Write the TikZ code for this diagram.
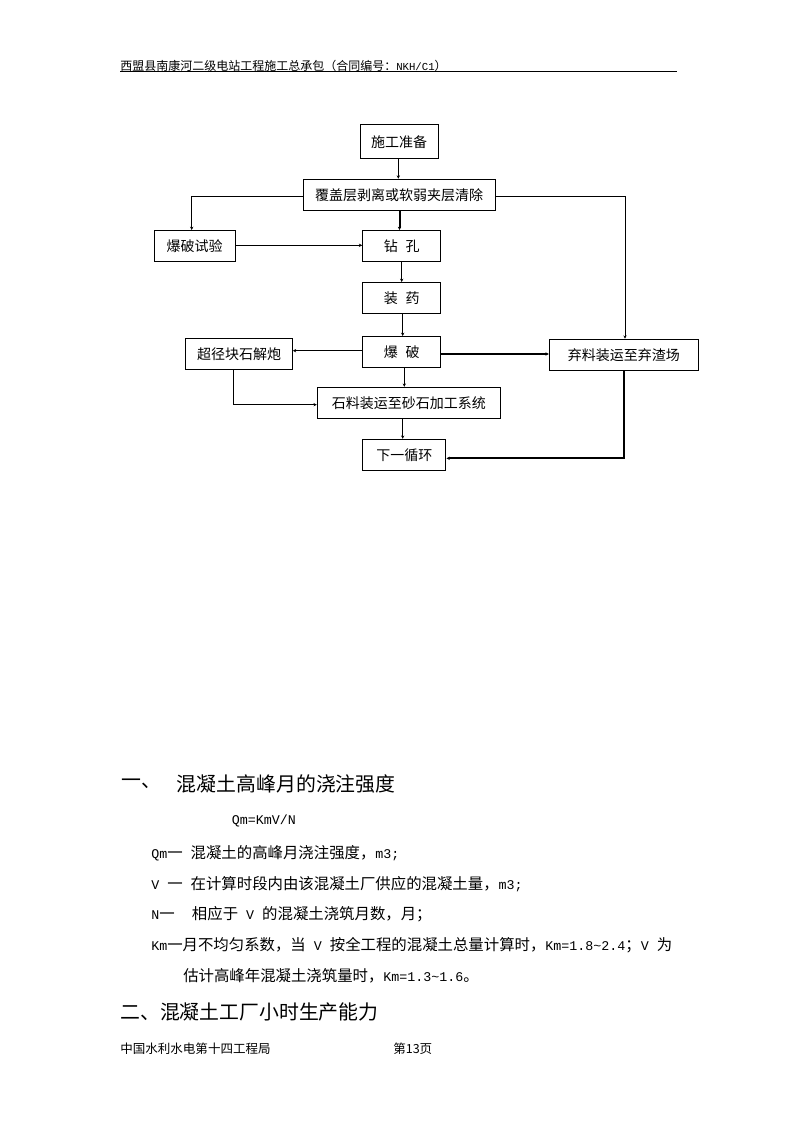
\documentclass[tikz,border=0pt]{standalone}
\usepackage{fontspec}
\setmainfont{Noto Sans CJK SC}
\newfontfamily\latmono{Liberation Mono}
\newcommand{\lat}[1]{{\latmono\fontsize{10pt}{12pt}\selectfont #1}}
\newcommand{\lats}[1]{{\latmono\fontsize{8pt}{10pt}\selectfont #1}}
\usetikzlibrary{arrows.meta}
\begin{document}
\begin{tikzpicture}[x=0.75pt,y=-0.75pt,
  box/.style={draw,line width=0.75pt,rectangle,inner sep=0pt,font=\fontsize{10.5pt}{12pt}\selectfont,minimum height=0.75*31pt},
  conn/.style={line width=0.75pt,-{Stealth[length=2.5pt,width=2.5pt]}},
  thickconn/.style={line width=1.5pt,-{Stealth[length=2.5pt,width=2.5pt]}},
  txt/.style={anchor=west,inner sep=0pt,font=\fontsize{11.55pt}{13pt}\selectfont},
  head/.style={anchor=west,inner sep=0pt,font=\fontsize{14.9pt}{17pt}\selectfont},
  small/.style={anchor=west,inner sep=0pt,font=\fontsize{9pt}{11pt}\selectfont}]
\useasboundingbox[fill=white] (0,0) rectangle (794,1123);
% header
\node[small] (hdr) at (120,66) {西盟县南康河二级电站工程施工总承包（合同编号：\lats{NKH/C1}）};
\coordinate (hl) at (120,72);
\coordinate (hr) at (677,72);
\draw[line width=0.75pt] (hl) -- (hr);
% boxes
\node[box,minimum width=0.75*78pt,minimum height=0.75*34pt] (n1) at (399,142) {施工准备};
\node[box,minimum width=0.75*192pt] (n2) at (399.2,194.7) {覆盖层剥离或软弱夹层清除};
\node[box,minimum width=0.75*81pt] (n3) at (194.7,246) {爆破试验};
\node[box,minimum width=0.75*78.3pt] (n4) at (401.8,246) {钻\hspace{0.55em}孔};
\node[box,minimum width=0.75*78.3pt] (n5) at (401.8,298) {装\hspace{0.55em}药};
\node[box,minimum width=0.75*78.3pt] (n6) at (401.8,352) {爆\hspace{0.55em}破};
\node[box,minimum width=0.75*106.7pt] (n7) at (239,354) {超径块石解炮};
\node[box,minimum width=0.75*149pt] (n8) at (623.8,354.7) {弃料装运至弃渣场};
\node[box,minimum width=0.75*183pt] (n9) at (408.8,402.8) {石料装运至砂石加工系统};
\node[box,minimum width=0.75*83.3pt] (n10) at (404.3,454.8) {下一循环};
% connectors
\draw[conn] (398.3,0 |- n1.south) -- (398.3,0 |- n2.north);
\draw[thickconn] (399.5,0 |- n2.south) -- (399.5,0 |- n4.north);
\coordinate (c1) at (191.7,196.7);
\draw[conn] (n2.west |- c1) -- (c1) -- (c1 |- n3.north);
\coordinate (c2) at (625,196.7);
\draw[conn] (n2.east |- c2) -- (c2) -- (c2 |- n8.north);
\draw[conn] (n3.east |- 0,245.3) -- (n4.west |- 0,245.3);
\draw[conn] (401.7,0 |- n4.south) -- (401.7,0 |- n5.north);
\draw[conn] (402.7,0 |- n5.south) -- (402.7,0 |- n6.north);
\draw[conn] (n6.west |- 0,350.7) -- (n7.east |- 0,350.7);
\draw[thickconn] (n6.east |- 0,354) -- (n8.west |- 0,354);
\draw[conn] (404.3,0 |- n6.south) -- (404.3,0 |- n9.north);
\coordinate (c3) at (233.3,404.7);
\draw[conn] (c3 |- n7.south) -- (c3) -- (n9.west |- c3);
\draw[conn] (402.7,0 |- n9.south) -- (402.7,0 |- n10.north);
\coordinate (c4) at (624,458.3);
\draw[thickconn] (c4 |- n8.south) -- (c4) -- (n10.east |- c4);
% text
\node[head] (h1a) at (121.7,784) {一、};
\node[head] (h1b) at (176.7,784) {混凝土高峰月的浇注强度};
\node[txt] (f) at (231.7,821) {\lat{Qm=KmV/N}};
\node[txt] (l1) at (151,853) {\lat{Qm}一\lat{ }混凝土的高峰月浇注强度，\lat{m3;}};
\node[txt] (l2) at (151,884) {\lat{V }一\lat{ }在计算时段内由该混凝土厂供应的混凝土量，\lat{m3;}};
\node[txt] (l3) at (151,914) {\lat{N}一\hspace*{13pt}相应于\lat{ V }的混凝土浇筑月数，月；};
\node[txt] (l4) at (151,945) {\lat{Km}一月不均匀系数，当\lat{ V }按全工程的混凝土总量计算时，\lat{Km=1.8\textasciitilde2.4}；\lat{V }为};
\node[txt] (l5) at (183,976) {估计高峰年混凝土浇筑量时，\lat{Km=1.3\textasciitilde1.6}。};
\node[head] (h2) at (120,1012) {二、混凝土工厂小时生产能力};
\node[small,font=\fontsize{9.4pt}{11pt}\selectfont] (ft1) at (120,1049) {中国水利水电第十四工程局};
\node[small,font=\fontsize{9.4pt}{11pt}\selectfont] (ft2) at (393,1049) {第13页};
\end{tikzpicture}
\end{document}
